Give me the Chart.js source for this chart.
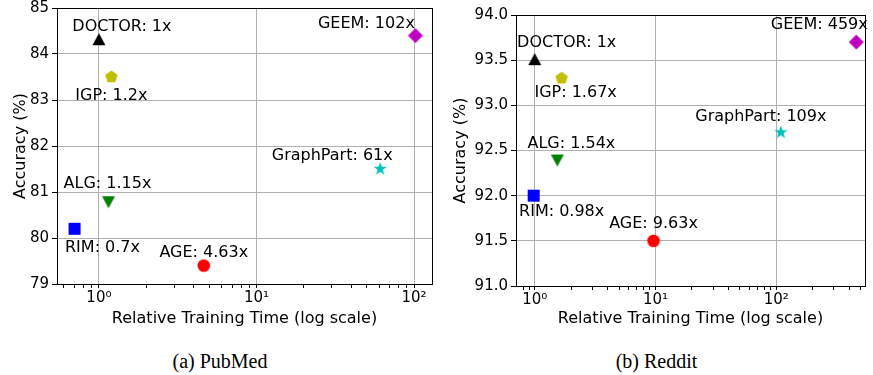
<!DOCTYPE html>
<html>
<head>
<meta charset="utf-8">
<script src="https://cdn.jsdelivr.net/npm/chart.js@4/dist/chart.umd.min.js"></script>
<style>
  body { margin: 0; background: #fff; width: 873px; height: 375px; overflow: hidden; position: relative; }
  .box { position: absolute; top: 0; height: 340px; }
  .cap { position: absolute; top: 350px; font: 20px 'Liberation Serif', serif; text-align: center; color: #000; }
</style>
</head>
<body>
<div class="box" style="left:0;width:440px"><canvas id="pubmed"></canvas></div>
<div class="box" style="left:440px;width:433px"><canvas id="reddit"></canvas></div>
<div class="cap" style="left:0;width:440px">(a) PubMed</div>
<div class="cap" style="left:440px;width:433px">(b) Reddit</div>
<script>
// methods, same order in both panels
const methods = ['DOCTOR', 'IGP', 'GEEM', 'GraphPart', 'ALG', 'RIM', 'AGE'];
const colors = ['#000000', '#bfbf00', '#bf00bf', '#00bfbf', '#008000', '#0000ff', '#ff0000'];
const shapes = ['triangle', 'pentagon', 'diamond', 'star', 'triangleDown', 'square', 'circle'];

// (a) PubMed
const pubmedTime = [1, 1.2, 102, 61, 1.15, 0.7, 4.63];
const pubmedAcc = [84.3, 83.5, 84.4, 81.5, 80.8, 80.2, 79.4];
// (b) Reddit
const redditTime = [1, 1.67, 459, 109, 1.54, 0.98, 9.63];
const redditAcc = [93.5, 93.3, 93.7, 92.7, 92.4, 92.0, 91.5];

const xMajor = [1, 10, 100];
const xMajorLabels = ['10⁰', '10¹', '10²'];

// where each annotation sits relative to its marker (px)
const pubmedLabelOff = [[23, -13], [0, 19], [-49, -12], [-48, -13], [-1, -17], [28, 19], [0, -13]];
const redditLabelOff = [[32, -17], [14, 15], [-37, -17], [-20, -16], [14, -16], [28, 16], [0, -17]];

const FONT = "'DejaVu Sans', sans-serif";

function makeMarker(shape, color) {
  const c = document.createElement('canvas');
  const s = 18;
  c.width = s; c.height = s;
  const g = c.getContext('2d');
  const m = s / 2;
  g.fillStyle = color;
  g.beginPath();
  if (shape === 'square') {
    g.rect(m - 6, m - 6, 12, 12);
  } else if (shape === 'circle') {
    g.arc(m, m, 6.3, 0, Math.PI * 2);
  } else if (shape === 'diamond') {
    g.moveTo(m, m - 7.5); g.lineTo(m + 7.5, m); g.lineTo(m, m + 7.5); g.lineTo(m - 7.5, m);
  } else if (shape === 'triangle') {
    g.moveTo(m, m - 7); g.lineTo(m + 6.5, m + 5); g.lineTo(m - 6.5, m + 5);
  } else if (shape === 'triangleDown') {
    g.moveTo(m, m + 7); g.lineTo(m + 6.5, m - 5); g.lineTo(m - 6.5, m - 5);
  } else if (shape === 'pentagon') {
    for (let i = 0; i < 5; i++) {
      const a = -Math.PI / 2 + i * 2 * Math.PI / 5;
      g.lineTo(m + 6.5 * Math.cos(a), m + 6.5 * Math.sin(a));
    }
  } else if (shape === 'star') {
    for (let i = 0; i < 10; i++) {
      const a = -Math.PI / 2 + i * Math.PI / 5;
      const r = i % 2 ? 2.8 : 7;
      g.lineTo(m + r * Math.cos(a), m + r * Math.sin(a));
    }
  }
  g.closePath();
  g.fill();
  return c;
}
const markers = shapes.map((s, i) => makeMarker(s, colors[i]));

function isMajor(v) {
  const l = Math.log10(v);
  return Math.abs(l - Math.round(l)) < 1e-9;
}

function logTicks(min, max) {
  const out = [];
  for (let d = -1; d <= 3; d++) {
    for (let k = 1; k <= 9; k++) {
      const v = +(k * Math.pow(10, d)).toPrecision(6);
      if (v >= min && v <= max) out.push({ value: v });
    }
  }
  return out;
}

const framePlugin = {
  id: 'frame',
  beforeDatasetsDraw(chart) {
    const a = chart.chartArea, ctx = chart.ctx;
    ctx.save();
    ctx.strokeStyle = '#000';
    ctx.lineWidth = 1;
    ctx.strokeRect(Math.round(a.left) + 0.5, Math.round(a.top) + 0.5, Math.round(a.right - a.left), Math.round(a.bottom - a.top));
    ctx.restore();
  }
};

const labelPlugin = {
  id: 'pointLabels',
  afterDatasetsDraw(chart, args, opts) {
    const ctx = chart.ctx;
    const pts = chart.getDatasetMeta(0).data;
    ctx.save();
    ctx.font = '16px ' + FONT;
    ctx.fillStyle = '#000';
    ctx.textAlign = 'center';
    ctx.textBaseline = 'middle';
    pts.forEach((p, i) => {
      const o = opts.offsets[i];
      ctx.fillText(opts.texts[i], p.x + o[0], p.y + o[1]);
    });
    ctx.restore();
  }
};

function makeChart(id, times, accs, offs, xr, yr, area) {
  const texts = methods.map((m, i) => m + ': ' + times[i] + 'x');
  return new Chart(document.getElementById(id), {
    type: 'scatter',
    data: {
      datasets: [{
        data: times.map((t, i) => ({ x: t, y: accs[i] })),
        pointStyle: markers,
        backgroundColor: colors,
        pointRadius: 7
      }]
    },
    options: {
      responsive: true,
      maintainAspectRatio: false,
      animation: false,
      events: [],
      layout: { padding: { top: area.top, right: area.right, left: 0, bottom: 0 } },
      plugins: {
        legend: { display: false },
        tooltip: { enabled: false },
        pointLabels: { texts: texts, offsets: offs }
      },
      scales: {
        x: {
          type: 'logarithmic',
          min: xr[0], max: xr[1],
          afterBuildTicks: s => { s.ticks = logTicks(xr[0], xr[1]); },
          afterFit: s => { s.height = area.xh; s.paddingLeft = 0; s.paddingRight = 0; },
          grid: {
            color: c => (c.tick && isMajor(c.tick.value)) ? '#b0b0b0' : 'rgba(0,0,0,0)',
            tickColor: '#000',
            tickLength: 4
          },
          border: { color: '#000' },
          ticks: {
            autoSkip: false,
            maxRotation: 0,
            padding: 1,
            color: '#000',
            font: { family: FONT, size: 15 },
            callback: v => { const k = xMajor.indexOf(v); return k >= 0 ? xMajorLabels[k] : ''; }
          },
          title: {
            display: true,
            text: 'Relative Training Time (log scale)',
            color: '#000',
            font: { family: FONT, size: 16 },
            padding: { top: 0, bottom: 12 }
          }
        },
        y: {
          min: yr[0], max: yr[1],
          afterFit: s => { s.width = area.yw; s.paddingTop = 0; s.paddingBottom = 0; },
          grid: { color: '#b0b0b0', tickColor: '#000', tickLength: 5 },
          border: { color: '#000' },
          ticks: {
            stepSize: yr[2],
            padding: 3,
            color: '#000',
            font: { family: FONT, size: 15 },
            callback: v => yr[3] ? v.toFixed(yr[3]) : String(v)
          },
          title: {
            display: true,
            text: 'Accuracy (%)',
            color: '#000',
            font: { family: FONT, size: 16 },
            padding: { top: 11, bottom: 0 }
          }
        }
      }
    },
    plugins: [framePlugin, labelPlugin]
  });
}

makeChart('pubmed', pubmedTime, pubmedAcc, pubmedLabelOff, [0.542, 130], [79, 85, 1, 0], { top: 4, right: 7, xh: 56, yw: 57 });
makeChart('reddit', redditTime, redditAcc, redditLabelOff, [0.716, 542], [91, 94, 0.5, 1], { top: 15, right: 1, xh: 54, yw: 76 });
</script>
</body>
</html>
